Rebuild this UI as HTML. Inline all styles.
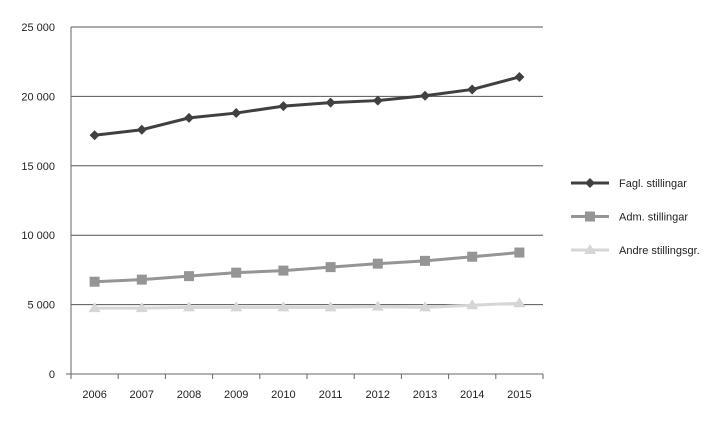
<!DOCTYPE html>
<html><head><meta charset="utf-8"><style>
html,body{margin:0;padding:0;background:#fff;}
svg{display:block;font-family:"Liberation Sans",sans-serif;}
</style></head><body>
<svg id="chart" width="719" height="425" viewBox="0 0 719 425" xmlns="http://www.w3.org/2000/svg">
<g id="grid"></g>
<g id="axes"></g>
<g id="series"></g>
<g id="legend"></g>
</svg>
<script>
const categories = ["2006","2007","2008","2009","2010","2011","2012","2013","2014","2015"];
const faglValues = [17200,17600,18450,18800,19300,19550,19700,20050,20500,21400];
const admValues = [6650,6800,7050,7300,7450,7700,7950,8150,8450,8750];
const andreValues = [4750,4750,4800,4800,4800,4800,4850,4800,4950,5100];
const yTicks = [0,5000,10000,15000,20000,25000];
const yTickLabels = ["0","5 000","10 000","15 000","20 000","25 000"];
const seriesNames = ["Fagl. stillingar","Adm. stillingar","Andre stillingsgr."];

const NS="http://www.w3.org/2000/svg";
const x0=71,x1=543,yTop=27,yBot=374,yMax=25000;
const step=(x1-x0)/categories.length;
function xPos(i){return x0+step*(i+0.5);}
function yPos(v){return yBot-(v/yMax)*(yBot-yTop);}
function mk(tag,attrs,parent){const e=document.createElementNS(NS,tag);for(const k in attrs)e.setAttribute(k,attrs[k]);parent.appendChild(e);return e;}
const grid=document.getElementById('grid'),axes=document.getElementById('axes'),ser=document.getElementById('series'),leg=document.getElementById('legend');

yTicks.forEach((t,i)=>{
  const y=yPos(t);
  if(t>0){const l=mk('line',{x1:x0,x2:x1,y1:y,y2:y,stroke:'#555','stroke-width':1},grid);
  
  }
  const tx=mk('text',{x:55,y:y+4,'text-anchor':'end','font-size':11,fill:'#222'},axes);
  tx.textContent=yTickLabels[i];
  
  
});
const ya=mk('line',{x1:x0,x2:x0,y1:yTop,y2:yBot,stroke:'#666','stroke-width':1},axes);


const xa=mk('line',{x1:x0-5,x2:x1,y1:yBot,y2:yBot,stroke:'#666','stroke-width':1},axes);


for(let i=0;i<=categories.length;i++){const x=x0+step*i;mk('line',{x1:x,x2:x,y1:yBot,y2:yBot+5,stroke:'#666'},axes);}
categories.forEach((c,i)=>{
  const tx=mk('text',{x:xPos(i),y:yBot+24,'text-anchor':'middle','font-size':11,fill:'#222'},axes);
  tx.textContent=c;
  
  
});

function marker(type,x,y,color,parent){
  if(type==='diamond') return mk('polygon',{points:`${x},${y-5} ${x+5},${y} ${x},${y+5} ${x-5},${y}`,fill:color},parent);
  if(type==='square') return mk('rect',{x:x-5,y:y-5,width:10,height:10,fill:color},parent);
  return mk('polygon',{points:`${x},${y-6} ${x+6},${y+4} ${x-6},${y+4}`,fill:color},parent);
}
const defs=[[faglValues,'#404040','diamond','fagl'],[admValues,'#959595','square','adm'],[andreValues,'#d6d6d6','triangle','andre']];
defs.forEach((d,si)=>{
  const [vals,color,m,key]=d;
  const g=mk('g',{},ser);
  
  
  const p=mk('polyline',{points:vals.map((v,i)=>xPos(i)+','+yPos(v)).join(' '),fill:'none',stroke:color,'stroke-width':3},g);
  
  
  vals.forEach((v,i)=>{const mm=marker(m,xPos(i),yPos(v),color,g);
    
    });
  const ly=183+si*33.5;
  const lg=mk('g',{},leg);
  
  
  mk('line',{x1:571,x2:609,y1:ly,y2:ly,stroke:color,'stroke-width':3},lg);
  marker(m,590,ly,color,lg);
  const t=mk('text',{x:619,y:ly+4,'font-size':11,fill:'#222'},lg);
  t.textContent=seriesNames[si];
});
</script>
</body></html>
